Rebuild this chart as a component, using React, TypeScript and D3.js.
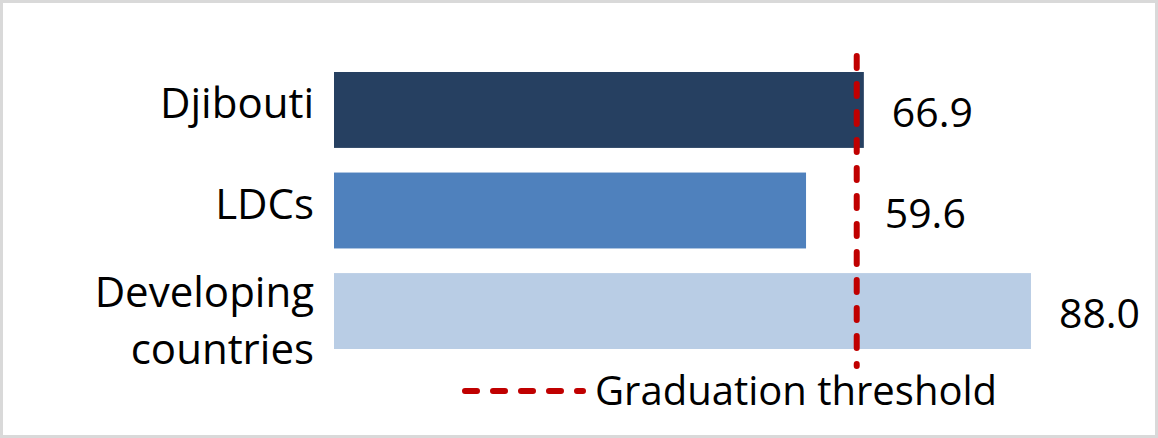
import React from 'react';
import * as d3 from 'd3';

const categories = ['Djibouti', 'LDCs', 'Developing countries'];
const values = [66.9, 59.6, 88.0];
const barColors = ['#264061', '#4f81bd', '#b9cde5'];
const threshold = 66;
const thresholdLabel = 'Graduation threshold';

const width = 1158;
const height = 438;
const margin = { top: 72, bottom: 89, left: 334, right: 32 };
const font = "'Open Sans', 'Noto Sans', sans-serif";

export default function App() {
  const xScale = d3
    .scaleLinear()
    .domain([0, 100])
    .range([margin.left, margin.left + 792]);

  const yScale = d3
    .scaleBand()
    .domain(categories)
    .range([margin.top, height - margin.bottom])
    .paddingInner(0.245)
    .paddingOuter(0);

  const bw = yScale.bandwidth();
  const tx = xScale(threshold);

  return (
    <svg
      width={width}
      height={height}
      style={{ position: 'absolute', left: 0, top: 0, background: '#fff' }}
      fontFamily={font}
    >
      <rect x={1.5} y={1.5} width={width - 3} height={height - 3} fill="#fff" stroke="#d9d9d9" strokeWidth={3} />

      {categories.map((c, i) => {
        const y = yScale(c) as number;
        const cy = y + bw / 2;
        const end = xScale(values[i]);
        const lines = c === 'Developing countries' ? ['Developing', 'countries'] : [c];
        const labelX = Math.max(end, tx) + 28;
        return (
          <g key={c}>
            <rect x={xScale(0)} y={y} width={end - xScale(0)} height={bw} fill={barColors[i]} />
            <text x={314} y={cy} textAnchor="end" fontSize={42} fill="#000">
              {lines.map((l, k) => (
                <tspan key={l} x={314} y={cy + 8 + (k - (lines.length - 1) / 2) * 57 + (lines.length > 1 ? 16 : 0)}>
                  {l}
                </tspan>
              ))}
            </text>
            <text x={labelX} y={cy + 17} fontSize={41} fill="#000">
              {values[i].toFixed(1)}
            </text>
          </g>
        );
      })}

      <line
        x1={tx}
        x2={tx}
        y1={56}
        y2={366}
        stroke="#c00000"
        strokeWidth={6}
        strokeDasharray="12 16"
        strokeLinecap="round"
      />

      <line
        x1={465}
        x2={583}
        y1={391}
        y2={391}
        stroke="#c00000"
        strokeWidth={6}
        strokeDasharray="12 16"
        strokeLinecap="round"
      />
      <text x={595} y={405} fontSize={40} fill="#000">
        {thresholdLabel}
      </text>
    </svg>
  );
}
